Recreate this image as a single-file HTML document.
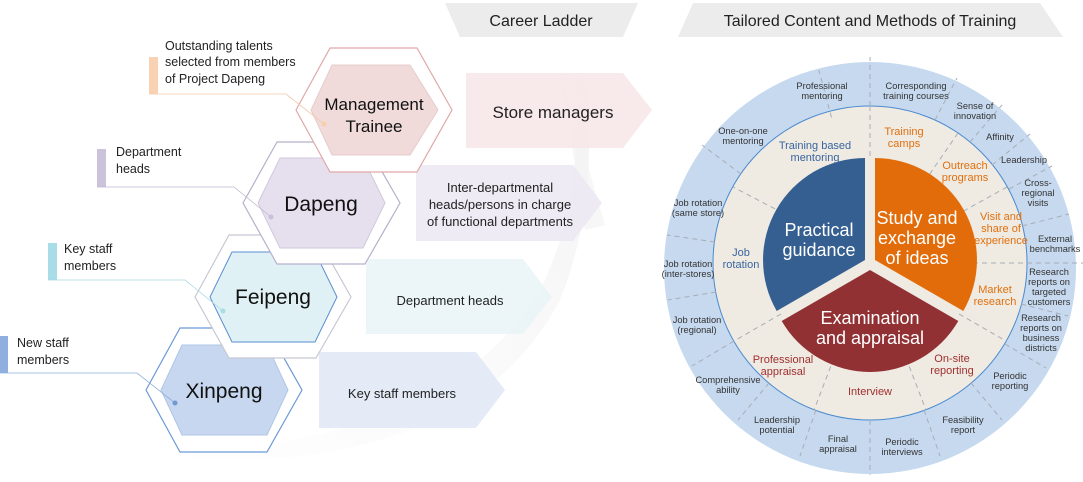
<!DOCTYPE html>
<html><head><meta charset="utf-8"><style>
html,body{margin:0;padding:0;background:#fff;}
svg{display:block;font-family:"Liberation Sans",sans-serif;}
</style></head><body>
<svg width="1083" height="482" viewBox="0 0 1083 482" xmlns="http://www.w3.org/2000/svg">
<defs>
<linearGradient id="sw" x1="0" y1="1" x2="1" y2="0">
<stop offset="0" stop-color="#f6f6f6" stop-opacity="0.1"/>
<stop offset="1" stop-color="#eeeeee" stop-opacity="0.7"/>
</linearGradient>
</defs>
<!-- swoosh -->
<path d="M190,460 Q470,470 560,300 Q600,200 585,80 L575,78 Q585,200 540,290 Q450,440 190,450 Z" fill="url(#sw)"/>
<path d="M560,70 L605,225 L585,230 Z" fill="#f4f4f4" opacity="0.7"/>
<!-- tabs -->
<polygon points="445,3 638,3 623,37 460,37" fill="#ececec"/>
<text x="541" y="26" font-size="16" text-anchor="middle" fill="#222">Career Ladder</text>
<polygon points="693,3 1040,3 1063,37 678,37" fill="#ececec"/>
<text x="870" y="26" font-size="16" text-anchor="middle" fill="#222">Tailored Content and Methods of Training</text>

<!-- arrows -->
<polygon points="466,73 623,73 652,110 623,148 466,148" fill="#f7e6e6" opacity="0.85"/>
<text x="553" y="118" font-size="17" text-anchor="middle" fill="#222">Store managers</text>
<polygon points="416,165 573,165 602,203 573,241 416,241" fill="#ebe7f2" opacity="0.85"/>
<text x="500" y="192" font-size="13" text-anchor="middle" fill="#222">Inter-departmental</text>
<text x="500" y="209" font-size="13" text-anchor="middle" fill="#222">heads/persons in charge</text>
<text x="500" y="226" font-size="13" text-anchor="middle" fill="#222">of functional departments</text>
<polygon points="366,259 523,259 552,297 523,334 366,334" fill="#e9f4f8" opacity="0.85"/>
<text x="450" y="305" font-size="13" text-anchor="middle" fill="#222">Department heads</text>
<polygon points="319,352 476,352 505,390 476,428 319,428" fill="#e1e9f6" opacity="0.9"/>
<text x="402" y="398" font-size="13" text-anchor="middle" fill="#222">Key staff members</text>

<!-- hexagons -->
<g>
<polygon points="146,390 180,328 267,328 302,390 267,452 180,452" fill="#fff" stroke="#6b9ad6" stroke-width="1.2"/>
<polygon points="161,390 182,345 267,345 288,390 267,435 182,435" fill="#c6d7ef" stroke="#b0c6e6"/>
<text x="224" y="398" font-size="21" text-anchor="middle" fill="#111">Xinpeng</text>
</g>
<g>
<polygon points="195,297 229,235 316,235 351,297 316,358 229,358" fill="#fff" stroke="#c8c8d4" stroke-width="1.2"/>
<polygon points="210,297 232,252 315,252 337,297 315,342 232,342" fill="#e0f1f6" stroke="#5a8ed0"/>
<text x="273" y="304" font-size="21" text-anchor="middle" fill="#111">Feipeng</text>
</g>
<g>
<polygon points="243,203 277,142 365,142 400,203 365,264 277,264" fill="#fff" stroke="#b8b0cc" stroke-width="1.2"/>
<polygon points="258,203 280,158 363,158 385,203 363,248 280,248" fill="#e6e0ee" stroke="#d0c8dc"/>
<text x="321" y="211" font-size="21" text-anchor="middle" fill="#111">Dapeng</text>
</g>
<g>
<polygon points="296,110 330,48 417,48 452,110 417,172 330,172" fill="#fff" stroke="#e0a8a8" stroke-width="1.2"/>
<polygon points="311,110 332,65 410,65 438,110 410,155 332,155" fill="#f0dada" stroke="#e6cccc"/>
<text x="374" y="110" font-size="17" text-anchor="middle" fill="#111">Management</text>
<text x="374" y="132" font-size="17" text-anchor="middle" fill="#111">Trainee</text>
</g>

<!-- left labels -->
<rect x="149" y="57" width="9" height="37" fill="#f9d2b4"/>
<polyline points="149,94 286,94 324,124" fill="none" stroke="#f5c8a8" stroke-width="0.8"/>
<circle cx="324" cy="124" r="2.5" fill="#f8d0a8"/>
<text font-size="12.5" fill="#222"><tspan x="165" y="50">Outstanding talents</tspan><tspan x="165" y="66">selected from members</tspan><tspan x="165" y="83">of Project Dapeng</tspan></text>

<rect x="97" y="149" width="9" height="38" fill="#cbc3da"/>
<polyline points="97,187 234,187 271,217" fill="none" stroke="#c0b8d0" stroke-width="0.8"/>
<circle cx="271" cy="217" r="2.5" fill="#c8c0d8"/>
<text font-size="12.5" fill="#222"><tspan x="116" y="156">Department</tspan><tspan x="116" y="173">heads</tspan></text>

<rect x="48" y="243" width="9" height="37" fill="#a8dce6"/>
<polyline points="48,280 185,280 223,311" fill="none" stroke="#a8d8e4" stroke-width="0.8"/>
<circle cx="223" cy="311" r="2.5" fill="#a8dce6"/>
<text font-size="12.5" fill="#222"><tspan x="64" y="253">Key staff</tspan><tspan x="64" y="270">members</tspan></text>

<rect x="0" y="336" width="8" height="37" fill="#8fb0de"/>
<polyline points="0,373 137,373 175,403" fill="none" stroke="#8fb0de" stroke-width="0.8"/>
<circle cx="175" cy="403" r="2.5" fill="#6f98d4"/>
<text font-size="12.5" fill="#222"><tspan x="17" y="347">New staff</tspan><tspan x="17" y="364">members</tspan></text>

<!-- circle -->
<circle cx="870" cy="268" r="206" fill="#c6d9ef"/>
<circle cx="870" cy="263" r="157" fill="#efebe2" stroke="#4a8ad0" stroke-width="1"/>
<g stroke="#a8adb5" stroke-width="1" stroke-dasharray="5,4" fill="none">
<line x1="870" y1="106" x2="870" y2="57"/>
<line x1="831.5" y1="117.5" x2="818.9" y2="70.1"/>
<line x1="935" y1="120" x2="957" y2="78"/>
<line x1="970" y1="142" x2="1002" y2="105"/>
<line x1="992" y1="165" x2="1030" y2="134"/>
<line x1="1009" y1="189" x2="1052" y2="166"/>
<line x1="1022" y1="226" x2="1069" y2="214"/>
<line x1="1027" y1="263" x2="1083" y2="263"/>
<line x1="1021" y1="304" x2="1068" y2="316"/>
<line x1="1005" y1="344" x2="1046" y2="368"/>
<line x1="971" y1="383" x2="1002" y2="420"/>
<line x1="924" y1="410" x2="940" y2="456"/>
<line x1="870" y1="420" x2="870" y2="475"/>
<line x1="816" y1="410" x2="800" y2="456"/>
<line x1="769" y1="383" x2="738" y2="420"/>
<line x1="734" y1="341" x2="692" y2="366"/>
<line x1="716" y1="292" x2="668" y2="300"/>
<line x1="715" y1="242" x2="667" y2="235"/>
<line x1="741" y1="174" x2="702" y2="145"/>
<line x1="870" y1="106" x2="870" y2="160"/>
<line x1="958" y1="133" x2="927" y2="178"/>
<line x1="1007" y1="187" x2="960" y2="213"/>
<line x1="973" y1="263" x2="1027" y2="263"/>
<line x1="959" y1="314" x2="1006" y2="341"/>
<line x1="906" y1="358" x2="926" y2="410"/>
<line x1="834" y1="358" x2="814" y2="410"/>
<line x1="781" y1="314" x2="734" y2="341"/>
<line x1="783" y1="213" x2="733" y2="187"/>
</g>
<!-- pie -->
<path d="M865,260 L865,158 A102,102 0 0 0 776.7,311 Z" fill="#355f91"/>
<path d="M875,260 L875,158 A102,102 0 0 1 963.3,311 Z" fill="#e36c0a"/>
<path d="M870,270 L958.3,321 A102,102 0 0 1 781.7,321 Z" fill="#923134"/>
<g fill="#fff" text-anchor="middle" font-size="18">
<text x="819" y="236">Practical</text><text x="819" y="256">guidance</text>
<text x="917" y="224">Study and</text><text x="917" y="244">exchange</text><text x="917" y="264">of ideas</text>
<text x="870" y="324">Examination</text><text x="870" y="344">and appraisal</text>
</g>
<g text-anchor="middle" font-size="11">
<g fill="#3a64a0"><text x="815" y="149">Training based</text><text x="815" y="161">mentoring</text><text x="741" y="256">Job</text><text x="741" y="268">rotation</text></g>
<g fill="#e07010"><text x="904" y="135">Training</text><text x="904" y="147">camps</text><text x="965" y="169">Outreach</text><text x="965" y="181">programs</text><text x="1001" y="220">Visit and</text><text x="1001" y="232">share of</text><text x="1001" y="244">experience</text><text x="995" y="293">Market</text><text x="995" y="305">research</text></g>
<g fill="#a03030"><text x="952" y="362">On-site</text><text x="952" y="374">reporting</text><text x="870" y="395">Interview</text><text x="783" y="363">Professional</text><text x="783" y="375">appraisal</text></g>
</g>
<g text-anchor="middle" font-size="9.3" fill="#333">
<text x="822" y="89">Professional</text><text x="822" y="99">mentoring</text>
<text x="916" y="89">Corresponding</text><text x="916" y="99">training courses</text>
<text x="975" y="109">Sense of</text><text x="975" y="119">innovation</text>
<text x="1000" y="140">Affinity</text>
<text x="1024" y="163">Leadership</text>
<text x="1038" y="186">Cross-</text><text x="1038" y="196">regional</text><text x="1038" y="206">visits</text>
<text x="1055" y="242">External</text><text x="1055" y="252">benchmarks</text>
<text x="1049" y="275">Research</text><text x="1049" y="285">reports on</text><text x="1049" y="295">targeted</text><text x="1049" y="305">customers</text>
<text x="1041" y="321">Research</text><text x="1041" y="331">reports on</text><text x="1041" y="341">business</text><text x="1041" y="351">districts</text>
<text x="1010" y="379">Periodic</text><text x="1010" y="389">reporting</text>
<text x="963" y="423">Feasibility</text><text x="963" y="433">report</text>
<text x="902" y="445">Periodic</text><text x="902" y="455">interviews</text>
<text x="838" y="442">Final</text><text x="838" y="452">appraisal</text>
<text x="777" y="423">Leadership</text><text x="777" y="433">potential</text>
<text x="728" y="383">Comprehensive</text><text x="728" y="393">ability</text>
<text x="697" y="323">Job rotation</text><text x="697" y="333">(regional)</text>
<text x="688" y="267">Job rotation</text><text x="688" y="277">(inter-stores)</text>
<text x="698" y="206">Job rotation</text><text x="698" y="216">(same store)</text>
<text x="743" y="134">One-on-one</text><text x="743" y="144">mentoring</text>
</g>
</svg>
</body></html>
